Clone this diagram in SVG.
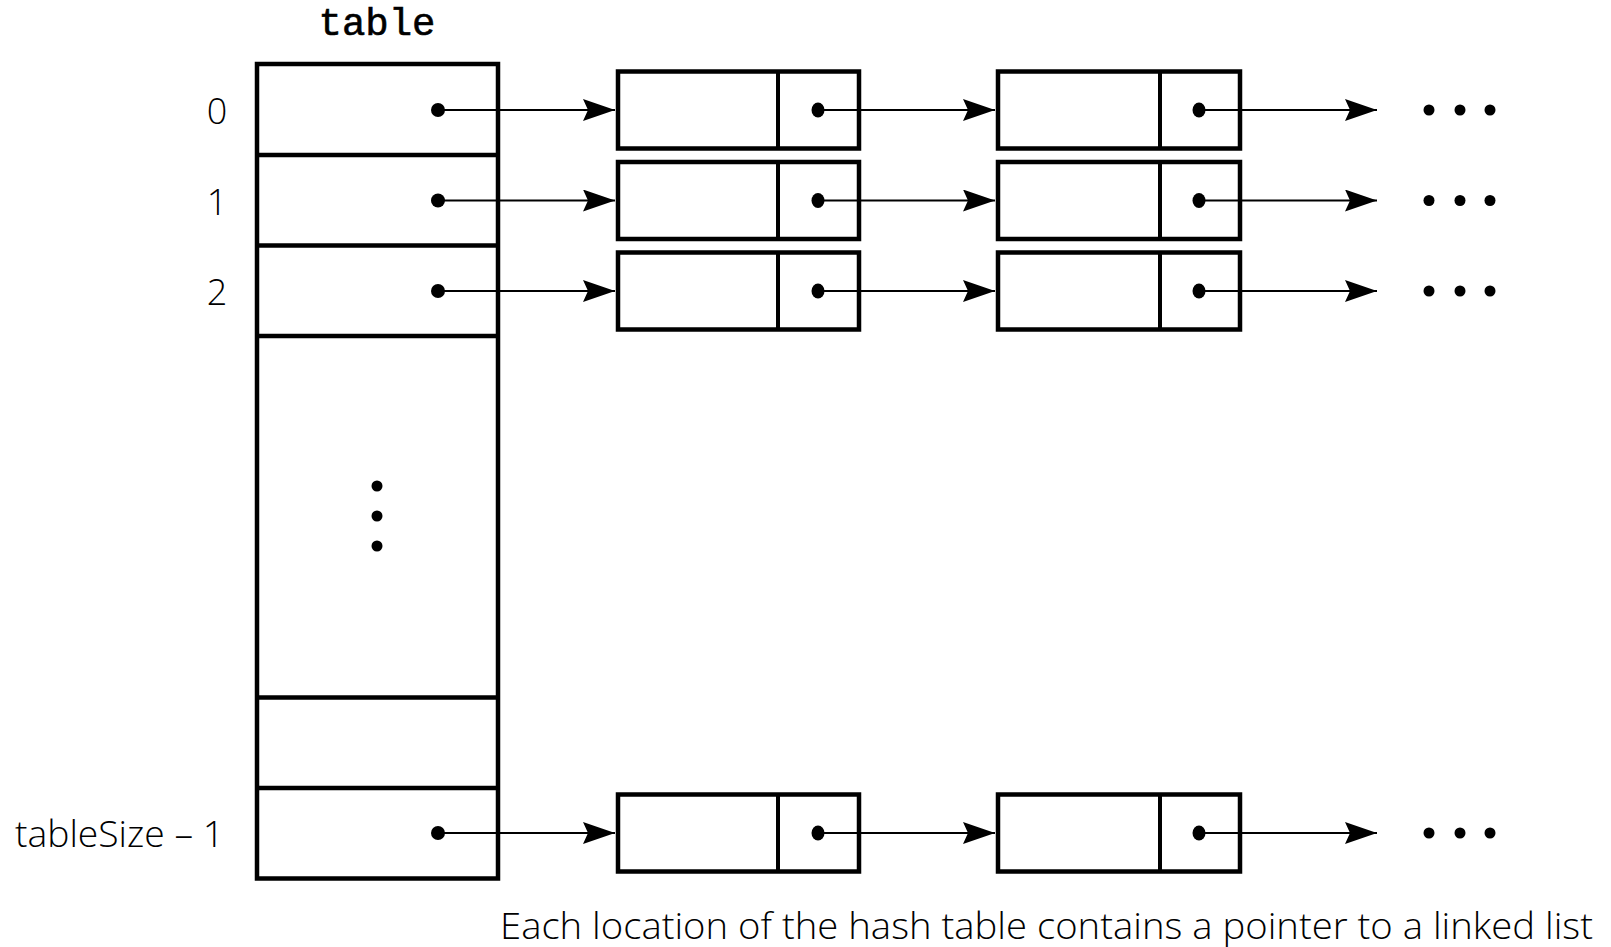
<svg xmlns="http://www.w3.org/2000/svg" width="1611" height="947" viewBox="0 0 1611 947">
<style>
.box{fill:#fff;stroke:#000;stroke-width:4.5}
.div{stroke:#000;stroke-width:4}
.row{stroke:#000;stroke-width:4.5}
.lbl{font-family:"Open Sans","Noto Sans",sans-serif;font-size:36px;font-weight:300;fill:#000}
.mono{font-family:"Liberation Mono","Courier New",monospace;font-size:39px;fill:#000;stroke:#000;stroke-width:0.6}
.conn{stroke:#000;stroke-width:2;fill:none}
</style>
<defs>
<marker id="ah" viewBox="0 0 32 22" refX="32" refY="11" markerWidth="32" markerHeight="22" markerUnits="userSpaceOnUse" orient="auto">
<path d="M0,0 L32,11 L0,22 L5,11 Z" fill="#000"/>
</marker>
</defs>
<rect width="1611" height="947" fill="#fff"/>

<text class="mono" x="377" y="35" text-anchor="middle">table</text>

<g id="hash-table">
<rect class="box" x="257" y="64" width="241" height="814.5"/>
<line class="row" x1="257" y1="155" x2="498" y2="155"/>
<line class="row" x1="257" y1="245.5" x2="498" y2="245.5"/>
<line class="row" x1="257" y1="336" x2="498" y2="336"/>
<line class="row" x1="257" y1="697.5" x2="498" y2="697.5"/>
<line class="row" x1="257" y1="788" x2="498" y2="788"/>
<circle cx="377" cy="486" r="5.5"/>
<circle cx="377" cy="516" r="5.5"/>
<circle cx="377" cy="546" r="5.5"/>
<circle cx="438" cy="110" r="7"/>
<circle cx="438" cy="200.5" r="7"/>
<circle cx="438" cy="291" r="7"/>
<circle cx="438" cy="833" r="7"/>
</g>

<g id="labels">
<text class="lbl" x="217" y="124" text-anchor="middle">0</text>
<text class="lbl" x="217" y="214.5" text-anchor="middle">1</text>
<text class="lbl" x="217" y="305" text-anchor="middle">2</text>
<text class="lbl" x="224" y="847" text-anchor="end" textLength="209" lengthAdjust="spacingAndGlyphs">tableSize – 1</text>
<text class="lbl" x="1593" y="939" text-anchor="end" textLength="1093" lengthAdjust="spacingAndGlyphs">Each location of the hash table contains a pointer to a linked list</text>
</g>

<g id="node-0-a"><rect class="box" x="618" y="71.5" width="241" height="77"/><line class="div" x1="778" y1="71.5" x2="778" y2="148.5"/><ellipse cx="818" cy="110" rx="6.5" ry="7.5"/></g>
<g id="node-0-b"><rect class="box" x="998" y="71.5" width="242" height="77"/><line class="div" x1="1160" y1="71.5" x2="1160" y2="148.5"/><ellipse cx="1199" cy="110" rx="6.5" ry="7.5"/></g>
<g id="node-1-a"><rect class="box" x="618" y="162" width="241" height="77"/><line class="div" x1="778" y1="162" x2="778" y2="239"/><ellipse cx="818" cy="200.5" rx="6.5" ry="7.5"/></g>
<g id="node-1-b"><rect class="box" x="998" y="162" width="242" height="77"/><line class="div" x1="1160" y1="162" x2="1160" y2="239"/><ellipse cx="1199" cy="200.5" rx="6.5" ry="7.5"/></g>
<g id="node-2-a"><rect class="box" x="618" y="252.5" width="241" height="77"/><line class="div" x1="778" y1="252.5" x2="778" y2="329.5"/><ellipse cx="818" cy="291" rx="6.5" ry="7.5"/></g>
<g id="node-2-b"><rect class="box" x="998" y="252.5" width="242" height="77"/><line class="div" x1="1160" y1="252.5" x2="1160" y2="329.5"/><ellipse cx="1199" cy="291" rx="6.5" ry="7.5"/></g>
<g id="node-n-a"><rect class="box" x="618" y="794.5" width="241" height="77"/><line class="div" x1="778" y1="794.5" x2="778" y2="871.5"/><ellipse cx="818" cy="833" rx="6.5" ry="7.5"/></g>
<g id="node-n-b"><rect class="box" x="998" y="794.5" width="242" height="77"/><line class="div" x1="1160" y1="794.5" x2="1160" y2="871.5"/><ellipse cx="1199" cy="833" rx="6.5" ry="7.5"/></g>

<g id="connectors">
<line class="conn" x1="438" y1="110" x2="615" y2="110" marker-end="url(#ah)"/>
<line class="conn" x1="818" y1="110" x2="995" y2="110" marker-end="url(#ah)"/>
<line class="conn" x1="1199" y1="110" x2="1377" y2="110" marker-end="url(#ah)"/>
<line class="conn" x1="438" y1="200.5" x2="615" y2="200.5" marker-end="url(#ah)"/>
<line class="conn" x1="818" y1="200.5" x2="995" y2="200.5" marker-end="url(#ah)"/>
<line class="conn" x1="1199" y1="200.5" x2="1377" y2="200.5" marker-end="url(#ah)"/>
<line class="conn" x1="438" y1="291" x2="615" y2="291" marker-end="url(#ah)"/>
<line class="conn" x1="818" y1="291" x2="995" y2="291" marker-end="url(#ah)"/>
<line class="conn" x1="1199" y1="291" x2="1377" y2="291" marker-end="url(#ah)"/>
<line class="conn" x1="438" y1="833" x2="615" y2="833" marker-end="url(#ah)"/>
<line class="conn" x1="818" y1="833" x2="995" y2="833" marker-end="url(#ah)"/>
<line class="conn" x1="1199" y1="833" x2="1377" y2="833" marker-end="url(#ah)"/>
</g>

<g id="ellipses">
<circle cx="1429" cy="110" r="5.5"/><circle cx="1460" cy="110" r="5.5"/><circle cx="1490" cy="110" r="5.5"/>
<circle cx="1429" cy="200.5" r="5.5"/><circle cx="1460" cy="200.5" r="5.5"/><circle cx="1490" cy="200.5" r="5.5"/>
<circle cx="1429" cy="291" r="5.5"/><circle cx="1460" cy="291" r="5.5"/><circle cx="1490" cy="291" r="5.5"/>
<circle cx="1429" cy="833" r="5.5"/><circle cx="1460" cy="833" r="5.5"/><circle cx="1490" cy="833" r="5.5"/>
</g>
</svg>
